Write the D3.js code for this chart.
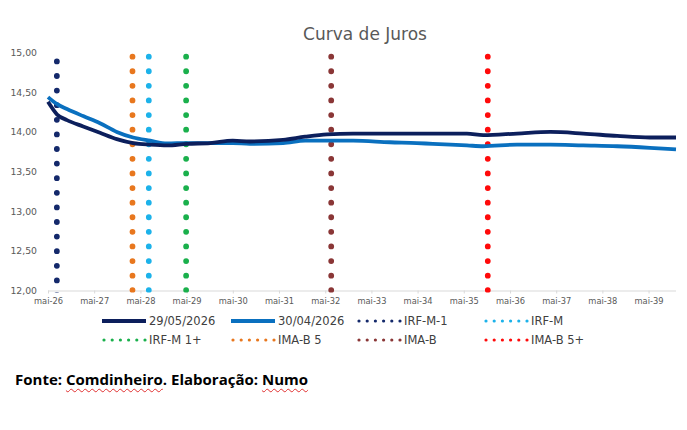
<!DOCTYPE html>
<html>
<head>
<meta charset="utf-8">
<script src="https://cdn.jsdelivr.net/npm/d3@7"></script>
<style>
  body { margin: 0; background: #fff; }
  #chart { position: relative; width: 687px; height: 430px; }
  #fonte {
    position: absolute; left: 15px; top: 369px;
    font-family: "Open Sans", sans-serif; font-weight: 700; font-size: 15px;
    color: #000; white-space: nowrap;
  }
  #fonte .sp { text-decoration: underline wavy #e03030; text-decoration-thickness: 1px; text-underline-offset: 3px; }
</style>
</head>
<body>
<div id="chart">
  <div id="fonte">Fonte: <span class="sp">Comdinheiro</span>. Elaboração: <span class="sp">Numo</span></div>
</div>
<script>
// curve vertices (dates) and yields
var curveDates = ["2026-05-01","2026-07-12","2026-09-28","2027-02-03","2027-06-16","2027-10-27",
  "2028-03-04","2028-07-17","2028-11-27","2029-05-05","2029-11-04","2030-05-01","2030-09-13",
  "2031-06-03","2031-11-24","2032-05-15","2032-12-07","2033-09-25","2034-04-25","2034-08-30",
  "2035-05-26","2035-10-02","2036-06-25","2037-03-15","2037-11-30","2038-08-26","2039-05-12","2039-12-04"];
var curve2905 = [14.38,14.22,14.15,14.07,13.99,13.91,13.86,13.84,13.83,13.85,13.86,13.89,13.88,
  13.90,13.94,13.97,13.98,13.98,13.98,13.98,13.98,13.96,13.98,14.00,13.98,13.95,13.93,13.93];
var curve3004 = [14.44,14.35,14.29,14.20,14.11,14.00,13.93,13.89,13.855,13.86,13.86,13.86,13.85,
  13.86,13.89,13.89,13.89,13.87,13.86,13.85,13.83,13.82,13.84,13.84,13.83,13.82,13.80,13.78];

// index durations (vertical dotted markers)
var indexNames = ["IRF-M-1","IRF-M","IRF-M 1+","IMA-B 5","IMA-B","IMA-B 5+"];
var indexDates = ["2026-07-10","2028-07-06","2029-04-27","2028-02-28","2032-06-17","2035-11-07"];
var indexTop   = [14.89,14.95,14.95,14.95,14.95,14.95];
var indexBottom = 12;

var xTickDates  = ["2026-05-01","2027-05-01","2028-05-01","2029-05-01","2030-05-01","2031-05-01","2032-05-01",
  "2033-05-01","2034-05-01","2035-05-01","2036-05-01","2037-05-01","2038-05-01","2039-05-01"];
var xTickLabels = ["mai-26","mai-27","mai-28","mai-29","mai-30","mai-31","mai-32",
  "mai-33","mai-34","mai-35","mai-36","mai-37","mai-38","mai-39"];
var yTicks = [12, 12.5, 13, 13.5, 14, 14.5, 15];

var seriesNames = ["29/05/2026","30/04/2026"];

// styles
var lineColors = ["#0c1f5c","#0a70bf"];
var indexColors = ["#14296b","#1cb2ea","#1ab04c","#e8771e","#8a3636","#ff0a0a"];
var FONT = "'DejaVu Sans', sans-serif";

var W = 687, H = 430;
var parse = d3.timeParse("%Y-%m-%d");
var ptBR = d3.formatLocale({decimal: ",", thousands: ".", grouping: [3], currency: ["R$", ""]});
var fmt = ptBR.format(".2f");

var svg = d3.select("#chart").insert("svg", ":first-child")
  .attr("width", W).attr("height", H)
  .style("position", "absolute").style("left", 0).style("top", 0);

var x = d3.scaleTime()
  .domain([parse("2026-05-01"), parse("2039-12-04")])
  .range([48, 676]);
var y = d3.scaleLinear().domain([12, 15]).range([290.5, 52.7]);

// title
svg.append("text")
  .attr("x", 365).attr("y", 40)
  .attr("text-anchor", "middle")
  .style("font-family", FONT)
  .style("font-size", "17px")
  .style("fill", "#595959")
  .text("Curva de Juros");

// x axis
var xAxis = svg.append("g")
  .attr("transform", "translate(0," + y(12) + ")")
  .call(d3.axisBottom(x)
    .tickValues(xTickDates.map(parse))
    .tickFormat(function (d, i) { return xTickLabels[i]; })
    .tickSizeOuter(0).tickSizeInner(3).tickPadding(5));
xAxis.select(".domain").attr("stroke", "#d9d9d9").attr("d", "M48,0.5H676");
xAxis.selectAll(".tick line").attr("stroke", "#d9d9d9");
xAxis.selectAll(".tick text")
  .style("font-family", FONT).style("font-size", "8.3px").style("fill", "#595959");

// y axis (labels only)
var yAxis = svg.append("g")
  .attr("transform", "translate(37,0)")
  .call(d3.axisLeft(y).tickValues(yTicks).tickFormat(fmt).tickSize(0).tickPadding(0));
yAxis.select(".domain").remove();
yAxis.selectAll(".tick text")
  .style("font-family", FONT).style("font-size", "9.3px").style("fill", "#595959");

// clip for the dotted markers
svg.append("clipPath").attr("id", "plotclip")
  .append("rect").attr("x", 40).attr("y", 40).attr("width", 640).attr("height", y(12) + 2 - 40);

var dotGap = 14.6;
svg.append("g").attr("clip-path", "url(#plotclip)")
  .selectAll("line").data(indexNames).enter().append("line")
  .attr("x1", function (d, i) { return x(parse(indexDates[i])); })
  .attr("x2", function (d, i) { return x(parse(indexDates[i])); })
  .attr("y1", function (d, i) { return y(indexTop[i]); })
  .attr("y2", y(indexBottom) + 8)
  .attr("stroke", function (d, i) { return indexColors[i]; })
  .attr("stroke-width", 5.8)
  .attr("stroke-linecap", "round")
  .attr("stroke-dasharray", "0," + dotGap);

// curves
var line = d3.line()
  .x(function (d) { return x(d.date); })
  .y(function (d) { return y(d.v); })
  .curve(d3.curveMonotoneX);

var curves = [curve2905, curve3004];
[1, 0].forEach(function (k) {
  var pts = curveDates.map(function (d, i) { return { date: parse(d), v: curves[k][i] }; });
  svg.append("path")
    .datum(pts)
    .attr("d", line)
    .attr("fill", "none")
    .attr("stroke", lineColors[k])
    .attr("stroke-width", 3.8)
    .attr("stroke-linejoin", "round");
});

// legend
var legendItems = [
  { name: seriesNames[0], color: lineColors[0], dots: false },
  { name: seriesNames[1], color: lineColors[1], dots: false },
  { name: indexNames[0], color: indexColors[0], dots: true },
  { name: indexNames[1], color: indexColors[1], dots: true },
  { name: indexNames[2], color: indexColors[2], dots: true },
  { name: indexNames[3], color: indexColors[3], dots: true },
  { name: indexNames[4], color: indexColors[4], dots: true },
  { name: indexNames[5], color: indexColors[5], dots: true }
];
var colX = [102, 231, 357, 484], rowY = [321, 340];
var lg = svg.append("g").selectAll("g").data(legendItems).enter().append("g")
  .attr("transform", function (d, i) { return "translate(" + colX[i % 4] + "," + rowY[Math.floor(i / 4)] + ")"; });
lg.append("line")
  .attr("x1", function (d) { return d.dots ? 2 : 0; })
  .attr("x2", 44)
  .attr("y1", 0).attr("y2", 0)
  .attr("stroke", function (d) { return d.color; })
  .attr("stroke-width", function (d) { return d.dots ? 3.2 : 4.2; })
  .attr("stroke-linecap", function (d) { return d.dots ? "round" : "butt"; })
  .attr("stroke-dasharray", function (d) { return d.dots ? "0,8.2" : null; });
lg.append("text")
  .attr("x", 47).attr("y", 0).attr("dy", "0.36em")
  .style("font-family", FONT).style("font-size", "11.5px").style("fill", "#404040")
  .text(function (d) { return d.name; });
</script>
</body>
</html>
